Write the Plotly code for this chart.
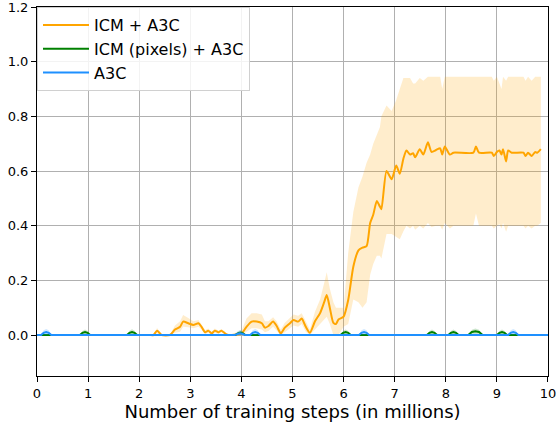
import plotly.graph_objects as go

# ---------------- data ----------------
x_ticks = [0, 1, 2, 3, 4, 5, 6, 7, 8, 9, 10]
x_tick_labels = ["0", "1", "2", "3", "4", "5", "6", "7", "8", "9", "10"]
y_ticks = [0.0, 0.2, 0.4, 0.6, 0.8, 1.0, 1.2]
y_tick_labels = ["0.0", "0.2", "0.4", "0.6", "0.8", "1.0", "1.2"]

icm_x = [0.0, 2.2, 2.28, 2.35, 2.44, 2.6, 2.70, 2.80, 2.86, 2.96, 3.06, 3.16, 3.22, 3.29,
         3.35, 3.42, 3.48, 3.55, 3.61, 3.70, 3.75, 4.0, 4.10, 4.20, 4.30, 4.40, 4.46, 4.53,
         4.62, 4.69, 4.77, 4.85, 4.95, 5.02, 5.11, 5.18, 5.26, 5.34, 5.44, 5.54, 5.62, 5.67,
         5.73, 5.80, 5.85, 5.90, 6.0, 6.09, 6.19, 6.29, 6.37, 6.45, 6.52, 6.58, 6.65, 6.71,
         6.74, 6.84, 6.94, 7.03, 7.10, 7.17, 7.23, 7.30, 7.36, 7.40, 7.49, 7.56, 7.65, 7.72,
         7.81, 7.89, 7.93, 7.98, 8.08, 8.15, 8.54, 8.59, 8.65, 8.90, 8.94, 9.0, 9.05, 9.09,
         9.12, 9.18, 9.22, 9.29, 9.52, 9.56, 9.61, 9.68, 9.75, 9.79, 9.86]
icm_mean = [0.0, 0.0, 0.0, 0.016, 0.0, 0.0, 0.02, 0.03, 0.049, 0.043, 0.037, 0.043, 0.03, 0.01,
            0.016, 0.006, 0.016, 0.01, 0.016, 0.003, 0.0, 0.005, 0.03, 0.049, 0.049, 0.043, 0.027, 0.033,
            0.049, 0.033, 0.006, 0.027, 0.043, 0.055, 0.049, 0.06, 0.03, 0.008, 0.05, 0.08, 0.12, 0.146,
            0.10, 0.044, 0.04, 0.057, 0.067, 0.128, 0.25, 0.31, 0.32, 0.325, 0.41, 0.44, 0.49, 0.47,
            0.46, 0.60, 0.57, 0.62, 0.59, 0.645, 0.675, 0.66, 0.665, 0.65, 0.68, 0.66, 0.705, 0.67,
            0.677, 0.683, 0.66, 0.69, 0.66, 0.667, 0.667, 0.69, 0.667, 0.667, 0.655, 0.67, 0.675, 0.66,
            0.68, 0.635, 0.675, 0.667, 0.667, 0.655, 0.667, 0.655, 0.67, 0.667, 0.68]
icm_upper = [0.0, 0.0, 0.0, 0.026, 0.0, 0.0, 0.035, 0.05, 0.073, 0.062, 0.05, 0.055, 0.04, 0.018,
             0.024, 0.012, 0.024, 0.016, 0.022, 0.006, 0.0, 0.015, 0.06, 0.08, 0.08, 0.075, 0.05, 0.05,
             0.065, 0.05, 0.02, 0.045, 0.065, 0.075, 0.07, 0.08, 0.05, 0.02, 0.085, 0.13, 0.19, 0.23,
             0.17, 0.12, 0.10, 0.10, 0.10, 0.30, 0.45, 0.54, 0.58, 0.63, 0.66, 0.70, 0.73, 0.76,
             0.80, 0.84, 0.82, 0.86, 0.90, 0.94, 0.94, 0.94, 0.92, 0.92, 0.94, 0.93, 0.945, 0.945,
             0.945, 0.945, 0.90, 0.945, 0.945, 0.945, 0.945, 0.945, 0.945, 0.945, 0.93, 0.945, 0.92, 0.90,
             0.945, 0.93, 0.945, 0.945, 0.945, 0.93, 0.945, 0.93, 0.945, 0.945, 0.945]
icm_lower = [0.0, 0.0, 0.0, 0.006, 0.0, 0.0, 0.008, 0.012, 0.03, 0.028, 0.025, 0.03, 0.02, 0.003,
             0.008, 0.001, 0.008, 0.004, 0.01, 0.0, 0.0, 0.0, 0.012, 0.025, 0.025, 0.02, 0.01, 0.015,
             0.03, 0.015, 0.0, 0.01, 0.025, 0.035, 0.03, 0.04, 0.012, 0.0, 0.02, 0.04, 0.06, 0.067,
             0.04, 0.0, 0.0, 0.0, 0.03, 0.04, 0.13, 0.12, 0.10, 0.12, 0.22, 0.26, 0.29, 0.29,
             0.28, 0.37, 0.37, 0.36, 0.35, 0.38, 0.40, 0.39, 0.40, 0.385, 0.40, 0.39, 0.41, 0.395,
             0.40, 0.40, 0.385, 0.41, 0.39, 0.40, 0.40, 0.445, 0.40, 0.40, 0.39, 0.40, 0.405, 0.39,
             0.41, 0.378, 0.40, 0.40, 0.40, 0.39, 0.40, 0.39, 0.40, 0.40, 0.41]

pix_x = [0.0, 0.84, 0.89, 0.94, 0.99, 1.04, 1.76, 1.81, 1.86, 1.91, 1.96, 3.88, 3.93, 3.98, 4.03, 4.08,
         5.94, 5.99, 6.04, 6.09, 6.14, 7.63, 7.68, 7.73, 7.78, 7.83, 8.05, 8.10, 8.15, 8.20, 8.25,
         8.44, 8.51, 8.58, 8.65, 8.72, 9.0, 9.05, 9.10, 9.15, 9.20, 10.0]
pix_mean = [0.0, 0.0, 0.008, 0.011, 0.008, 0.0, 0.0, 0.008, 0.011, 0.008, 0.0, 0.0, 0.006, 0.009, 0.006, 0.0,
            0.0, 0.008, 0.011, 0.008, 0.0, 0.0, 0.008, 0.011, 0.008, 0.0, 0.0, 0.008, 0.011, 0.008, 0.0,
            0.0, 0.011, 0.014, 0.011, 0.0, 0.0, 0.008, 0.011, 0.008, 0.0, 0.0]
pix_upper = [0.0, 0.0, 0.015, 0.02, 0.015, 0.0, 0.0, 0.016, 0.021, 0.016, 0.0, 0.0, 0.012, 0.017, 0.012, 0.0,
             0.0, 0.015, 0.02, 0.015, 0.0, 0.0, 0.015, 0.02, 0.015, 0.0, 0.0, 0.015, 0.02, 0.015, 0.0,
             0.0, 0.019, 0.024, 0.019, 0.0, 0.0, 0.015, 0.02, 0.015, 0.0, 0.0]
pix_lower = [0.0, 0.0, 0.001, 0.002, 0.001, 0.0, 0.0, 0.001, 0.002, 0.001, 0.0, 0.0, 0.0, 0.001, 0.0, 0.0,
             0.0, 0.001, 0.002, 0.001, 0.0, 0.0, 0.001, 0.002, 0.001, 0.0, 0.0, 0.001, 0.002, 0.001, 0.0,
             0.0, 0.003, 0.004, 0.003, 0.0, 0.0, 0.001, 0.002, 0.001, 0.0, 0.0]

a3c_x = [0.0, 0.08, 0.13, 0.18, 0.23, 0.28, 3.87, 3.92, 3.97, 4.02, 4.07, 4.17, 4.22, 4.27, 4.32, 4.37,
         6.30, 6.35, 6.40, 6.45, 6.50, 9.22, 9.27, 9.32, 9.37, 9.42, 10.0]
a3c_mean = [0.0, 0.0, 0.008, 0.011, 0.008, 0.0, 0.0, 0.004, 0.006, 0.004, 0.0, 0.0, 0.008, 0.011, 0.008, 0.0,
            0.0, 0.008, 0.011, 0.008, 0.0, 0.0, 0.008, 0.011, 0.008, 0.0, 0.0]
a3c_upper = [0.0, 0.0, 0.017, 0.022, 0.017, 0.0, 0.0, 0.013, 0.018, 0.013, 0.0, 0.0, 0.017, 0.022, 0.017, 0.0,
             0.0, 0.017, 0.022, 0.017, 0.0, 0.0, 0.017, 0.022, 0.017, 0.0, 0.0]
a3c_lower = [0.0, 0.0, 0.001, 0.002, 0.001, 0.0, 0.0, 0.0, 0.0, 0.0, 0.0, 0.0, 0.001, 0.002, 0.001, 0.0,
             0.0, 0.001, 0.002, 0.001, 0.0, 0.0, 0.001, 0.002, 0.001, 0.0, 0.0]

series = [
    ("ICM + A3C", icm_x, icm_mean, icm_upper, icm_lower, "#FFA500", "rgba(255,165,0,0.2)", "spline"),
    ("ICM (pixels) + A3C", pix_x, pix_mean, pix_upper, pix_lower, "#008000", "rgba(0,128,0,0.2)", "linear"),
    ("A3C", a3c_x, a3c_mean, a3c_upper, a3c_lower, "#1E90FF", "rgba(30,144,255,0.2)", "linear"),
]

fig = go.Figure()
for name, xs, m, up, lo, col, fcol, shape in series:
    fig.add_trace(go.Scatter(x=xs, y=up, mode="lines", line=dict(width=0, color=fcol, shape="linear"),
                             showlegend=False, hoverinfo="skip"))
    fig.add_trace(go.Scatter(x=xs, y=lo, mode="lines", line=dict(width=0, color=fcol, shape="linear"),
                             fill="tonexty", fillcolor=fcol, showlegend=False, hoverinfo="skip"))
    line = dict(width=2, color=col, shape=shape)
    if shape == "spline":
        line["smoothing"] = 0.6
    fig.add_trace(go.Scatter(x=xs, y=m, mode="lines", name=name, line=line))

font_family = "DejaVu Sans"
fig.update_layout(
    width=556, height=425,
    margin=dict(l=37, r=8, t=7, b=49, autoexpand=False),
    paper_bgcolor="white", plot_bgcolor="white",
    font=dict(family=font_family, size=13, color="black"),
    legend=dict(x=0.0, y=1.0, xanchor="left", yanchor="top", traceorder="normal",
                itemwidth=46, tracegroupgap=0,
                bgcolor="rgba(255,255,255,0.85)", bordercolor="#d0d0d0", borderwidth=1,
                font=dict(family=font_family, size=16, color="black")),
    showlegend=True,
)
fig.update_xaxes(range=[0, 10.0001], tickvals=x_ticks, ticktext=x_tick_labels, automargin=False,
                 ticklabeloverflow="allow",
                 showgrid=True, gridcolor="#b0b0b0", gridwidth=1,
                 showline=True, linecolor="black", linewidth=1, mirror=True,
                 ticks="outside", ticklen=5, tickcolor="black", zeroline=False,
                 tickfont=dict(size=13),
                 title=dict(text="Number of training steps (in millions)", font=dict(size=18), standoff=3))
fig.update_yaxes(range=[-0.15, 1.2001], tickvals=y_ticks, ticktext=y_tick_labels, automargin=False,
                 ticklabeloverflow="allow",
                 showgrid=True, gridcolor="#b0b0b0", gridwidth=1,
                 showline=True, linecolor="black", linewidth=1, mirror=True,
                 ticks="outside", ticklen=5, tickcolor="black", zeroline=False,
                 tickfont=dict(size=13))

fig.write_html("out.html", config={"displayModeBar": False},
               post_script="document.body.style.margin='0px';document.body.style.padding='0px';")
